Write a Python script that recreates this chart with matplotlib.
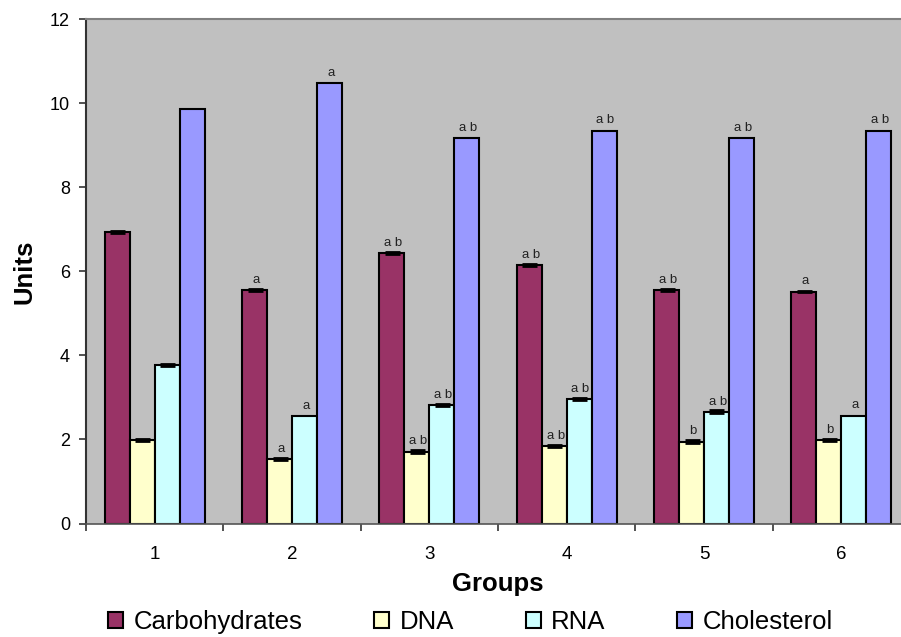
import matplotlib
matplotlib.use("Agg")
import matplotlib.pyplot as plt
import numpy as np

plt.rcParams['font.family'] = ['Liberation Sans', 'DejaVu Sans']

groups = ['1', '2', '3', '4', '5', '6']
series = ['Carbohydrates', 'DNA', 'RNA', 'Cholesterol']
colors = ['#993366', '#FFFFCC', '#CCFFFF', '#9999FF']

carbohydrates = [6.94, 5.56, 6.44, 6.15, 5.56, 5.52]
dna = [1.99, 1.53, 1.71, 1.84, 1.95, 1.99]
rna = [3.77, 2.56, 2.82, 2.96, 2.66, 2.57]
cholesterol = [9.86, 10.49, 9.17, 9.35, 9.17, 9.35]

carb_err = [0.03, 0.03, 0.03, 0.03, 0.03, 0.02]
dna_err = [0.03, 0.03, 0.03, 0.03, 0.03, 0.03]
rna_err = [0.03, 0.0, 0.03, 0.03, 0.03, 0.0]
chol_err = [0.0, 0.0, 0.0, 0.0, 0.0, 0.0]

carb_sig = ['', 'a', 'a b', 'a b', 'a b', 'a']
dna_sig = ['', 'a', 'a b', 'a b', 'b', 'b']
rna_sig = ['', 'a', 'a b', 'a b', 'a b', 'a']
chol_sig = ['', 'a', 'a b', 'a b', 'a b', 'a b']

values = [carbohydrates, dna, rna, cholesterol]
errors = [carb_err, dna_err, rna_err, chol_err]
labels = [carb_sig, dna_sig, rna_sig, chol_sig]

fig = plt.figure(figsize=(9.01, 6.37), dpi=100)
ax = fig.add_axes([86 / 901, (637 - 523.5) / 637, 824 / 901, (523.5 - 19.3) / 637])
ax.set_facecolor('#C0C0C0')

x = np.arange(1, len(groups) + 1)
w = 1 / 5.5
offsets = np.array([-1.5, -0.5, 0.5, 1.5]) * w

handles = []
for i in range(4):
    h = ax.bar(x + offsets[i], values[i], width=w, color=colors[i],
               edgecolor='black', linewidth=1.5, label=series[i], zorder=2)
    handles.append(h)
    err = np.array(errors[i])
    m = err > 0
    if m.any():
        ax.errorbar((x + offsets[i])[m], np.array(values[i])[m], yerr=err[m],
                    fmt='none', ecolor='black', elinewidth=1.5, capsize=5.4,
                    capthick=2, zorder=3)
    # significance letters above each bar
    for xi, yi, s in zip(x + offsets[i], values[i], labels[i]):
        if s:
            ax.annotate(s, (xi, yi), xytext=(1, 3), textcoords='offset points',
                        ha='center', va='bottom', fontsize=9.5, color='#222222')

ax.set_xlim(0.5, 6.5)
ax.set_ylim(0, 12)
ax.set_yticks(np.arange(0, 13, 2))
ax.tick_params(axis='y', labelsize=13, length=5, width=1.2, direction='out',
               pad=6.5, color='#333333')

# ticks sit between groups, labels at group centres
ax.set_xticks(np.arange(0.5, 7, 1))
ax.set_xticklabels([])
ax.set_xticks(x, minor=True)
ax.set_xticklabels(groups, minor=True)
ax.tick_params(axis='x', which='major', length=5, width=1.2, direction='out', color='#333333')
ax.tick_params(axis='x', which='minor', length=0, labelsize=13.5, pad=16)

ax.spines['top'].set_color('#808080')
ax.spines['top'].set_linewidth(1.5)
ax.spines['right'].set_visible(False)
ax.spines['left'].set_color('#333333')
ax.spines['left'].set_linewidth(1.5)
ax.spines['bottom'].set_color('#555555')
ax.spines['bottom'].set_linewidth(1.2)

ax.set_ylabel('Units', fontsize=18.5, fontweight='bold', labelpad=10)
ax.set_xlabel('Groups', fontsize=18.5, fontweight='bold', labelpad=6.5)

leg = fig.legend(handles=handles, labels=series, loc='center',
                 bbox_to_anchor=(470.5 / 901, (637 - 622) / 637), ncol=4,
                 fontsize=18.5, handlelength=0.58, handleheight=0.58,
                 handletextpad=0.4, columnspacing=2.8, borderpad=0.5,
                 frameon=True, fancybox=False, framealpha=1)
leg.get_frame().set_facecolor('white')
leg.get_frame().set_edgecolor('none')
for p in leg.get_patches():
    p.set_linewidth(1.5)

fig.savefig('out.png', dpi=100)
